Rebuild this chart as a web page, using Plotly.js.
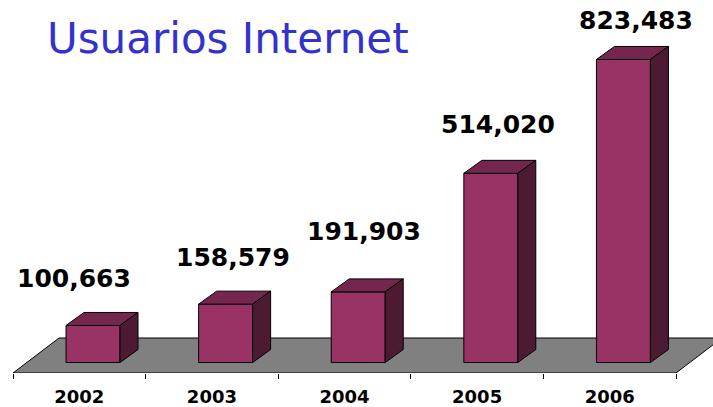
<!DOCTYPE html>
<html><head><meta charset="utf-8">
<script src="https://cdn.plot.ly/plotly-3.0.1.min.js"></script>
<style>html,body{margin:0;padding:0;background:#fff}</style>
</head><body><div id="chart" style="width:713px;height:407px"></div>
<script>
// ---- data ----
const years = ['2002', '2003', '2004', '2005', '2006'];
const users = [100663, 158579, 191903, 514020, 823483];
const chartTitle = 'Usuarios Internet';

// ---- style / layout constants ----
const W = 713, H = 407;
const plotBottomPx = 373;          // floor front edge
const pxPerCat = 132.6;
const xStart = -0.5 - 13 / pxPerCat;
const xEnd = xStart + W / pxPerCat;
const k = 3.68e-4;                 // pixels per user
const basePx = 362.5;              // pixel row of value 0
const yMin = -(plotBottomPx - basePx) / k;
const yMax = basePx / k;
const barW = 0.407, barOff = -0.1;
const ddx = 18 / pxPerCat, ddy = 13 / k;        // bar depth
const floorDx = 46 / pxPerCat, floorDy = 35 / k; // floor depth
const labelShiftX = [-28, -2, -3, -2, 4];        // label placement (px)
const labelLift = [34, 34, 47, 36, 26];

const cFront = '#993366', cTop = '#74264f', cSide = '#4c1a33';
const fontFam = '"DejaVu Sans", Verdana, sans-serif';

const shapes = [];
// floor
shapes.push({
  type: 'path', xref: 'x', yref: 'y', layer: 'below',
  path: `M -0.5 ${yMin} L ${years.length - 0.5} ${yMin} L ${years.length - 0.5 + floorDx} ${yMin + floorDy} L ${-0.5 + floorDx} ${yMin + floorDy} Z`,
  fillcolor: '#808080', line: {color: '#000', width: 1}
});
users.forEach((v, i) => {
  const x0 = i + barOff, x1 = x0 + barW;
  shapes.push({
    type: 'path', xref: 'x', yref: 'y', layer: 'above',
    path: `M ${x0} ${v} L ${x1} ${v} L ${x1 + ddx} ${v + ddy} L ${x0 + ddx} ${v + ddy} Z`,
    fillcolor: cTop, line: {color: '#000', width: 1}
  });
  shapes.push({
    type: 'path', xref: 'x', yref: 'y', layer: 'above',
    path: `M ${x1} 0 L ${x1} ${v} L ${x1 + ddx} ${v + ddy} L ${x1 + ddx} ${ddy} Z`,
    fillcolor: cSide, line: {color: '#000', width: 1}
  });
});

const annotations = users.map((v, i) => ({
  xref: 'x', yref: 'y',
  x: i + barOff + (barW + ddx) / 2, y: v + ddy,
  xshift: labelShiftX[i], yshift: labelLift[i],
  xanchor: 'center', yanchor: 'middle',
  text: v.toLocaleString('en-US'), showarrow: false,
  font: {family: fontFam, size: 25, color: '#000', weight: 'bold'}
}));

const trace = {
  type: 'bar', x: years, y: users,
  width: barW, offset: barOff,
  marker: {color: cFront, line: {color: '#000', width: 1}},
  hoverinfo: 'none', cliponaxis: false
};

const layout = {
  width: W, height: H,
  margin: {l: 0, r: 0, t: 0, b: H - plotBottomPx, pad: 0},
  paper_bgcolor: '#fff', plot_bgcolor: 'rgba(0,0,0,0)',
  showlegend: false,
  title: {
    text: chartTitle, xref: 'container', yref: 'container',
    x: 47 / W, xanchor: 'left', y: 1 - 38.5 / H, yanchor: 'middle',
    font: {family: fontFam, size: 42, color: '#3333cc'}
  },
  xaxis: {
    type: 'category', range: [xStart, xEnd],
    tickson: 'boundaries', ticks: 'outside', ticklen: 5, tickwidth: 1, tickcolor: '#000',
    ticklabelstandoff: 11,
    showline: false, showgrid: false, zeroline: false, fixedrange: true,
    tickfont: {family: fontFam, size: 18, color: '#000', weight: 'bold'}
  },
  yaxis: {range: [yMin, yMax], visible: false, fixedrange: true},
  shapes: shapes,
  annotations: annotations
};

Plotly.newPlot('chart', [trace], layout, {displayModeBar: false, staticPlot: true});
</script>
</body></html>
